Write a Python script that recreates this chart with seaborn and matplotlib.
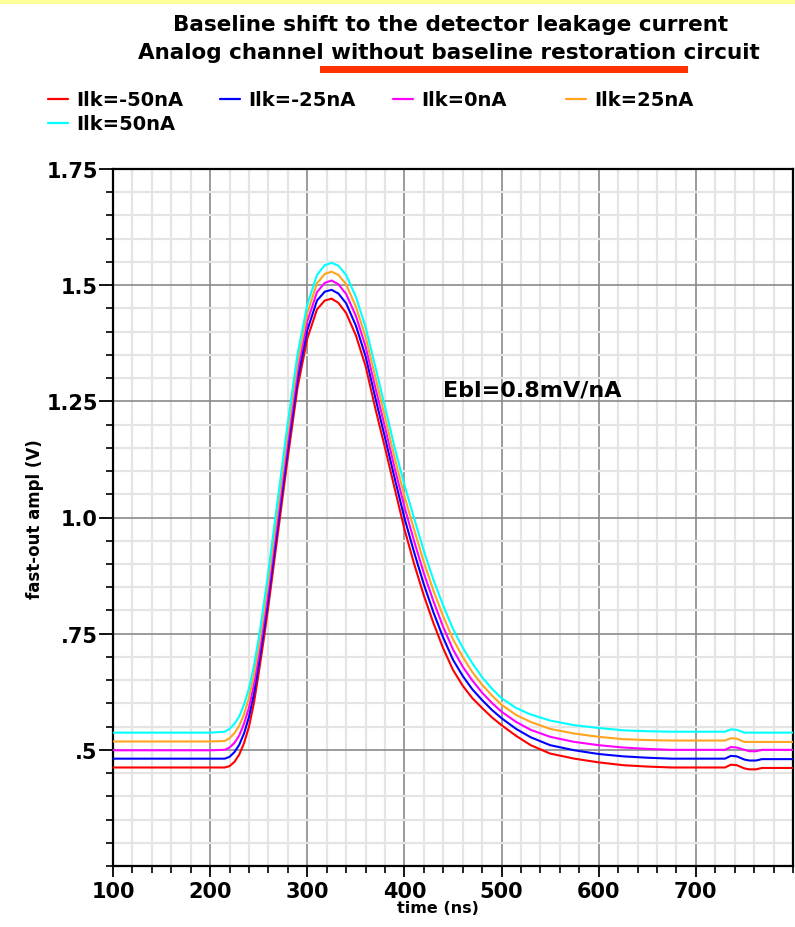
import matplotlib
matplotlib.use("Agg")
import matplotlib.pyplot as plt
from matplotlib.patches import Rectangle
from matplotlib.lines import Line2D
from matplotlib.ticker import FixedLocator, MultipleLocator
import seaborn as sns
import pandas as pd

# ---------------- data ----------------
time_ns = [100, 200, 215, 220, 225, 230, 235, 240, 245, 250,
           255, 260, 270, 280, 290, 300, 310, 318, 325, 332,
           340, 350, 360, 370, 380, 390, 400, 410, 420, 430,
           440, 450, 460, 470, 480, 490, 500, 515, 530, 550,
           575, 600, 625, 650, 675, 700, 730, 736, 742, 750,
           755, 762, 768, 800]

ilk_m50 = [0.462, 0.462, 0.462, 0.465, 0.474, 0.490, 0.515, 0.550, 0.600, 0.665,
           0.735, 0.810, 0.970, 1.130, 1.280, 1.385, 1.448, 1.467, 1.471, 1.462,
           1.440, 1.392, 1.326, 1.235, 1.150, 1.062, 0.975, 0.900, 0.832, 0.772,
           0.718, 0.672, 0.638, 0.611, 0.590, 0.570, 0.553, 0.530, 0.510, 0.492,
           0.481, 0.473, 0.467, 0.464, 0.462, 0.462, 0.462, 0.468, 0.467, 0.460,
           0.458, 0.458, 0.461, 0.461]

ilk_m25 = [0.481, 0.481, 0.481, 0.485, 0.495, 0.511, 0.536, 0.571, 0.620, 0.684,
           0.754, 0.829, 0.989, 1.149, 1.298, 1.403, 1.467, 1.486, 1.490, 1.482,
           1.461, 1.413, 1.347, 1.258, 1.172, 1.084, 0.999, 0.925, 0.856, 0.795,
           0.741, 0.694, 0.659, 0.630, 0.607, 0.586, 0.568, 0.545, 0.527, 0.510,
           0.499, 0.491, 0.486, 0.483, 0.481, 0.481, 0.481, 0.487, 0.486, 0.479,
           0.477, 0.477, 0.480, 0.480]

ilk_0 = [0.499, 0.499, 0.500, 0.505, 0.515, 0.531, 0.557, 0.591, 0.640, 0.703,
         0.773, 0.848, 1.008, 1.168, 1.316, 1.422, 1.485, 1.505, 1.510, 1.502,
         1.481, 1.434, 1.368, 1.280, 1.194, 1.106, 1.023, 0.949, 0.880, 0.819,
         0.764, 0.716, 0.679, 0.649, 0.623, 0.601, 0.582, 0.560, 0.543, 0.528,
         0.517, 0.510, 0.505, 0.502, 0.500, 0.500, 0.500, 0.506, 0.505, 0.500,
         0.497, 0.497, 0.500, 0.500]

ilk_p25 = [0.518, 0.518, 0.519, 0.525, 0.536, 0.552, 0.577, 0.612, 0.660, 0.721,
           0.791, 0.866, 1.026, 1.186, 1.334, 1.440, 1.504, 1.524, 1.529, 1.522,
           1.502, 1.454, 1.389, 1.303, 1.216, 1.128, 1.046, 0.974, 0.904, 0.842,
           0.787, 0.738, 0.700, 0.667, 0.640, 0.617, 0.597, 0.575, 0.560, 0.545,
           0.535, 0.528, 0.523, 0.521, 0.520, 0.520, 0.520, 0.525, 0.524, 0.517,
           0.517, 0.517, 0.517, 0.517]

ilk_p50 = [0.537, 0.537, 0.539, 0.545, 0.556, 0.572, 0.598, 0.632, 0.680, 0.740,
           0.810, 0.885, 1.045, 1.205, 1.352, 1.458, 1.522, 1.543, 1.548, 1.542,
           1.522, 1.475, 1.410, 1.325, 1.238, 1.150, 1.070, 0.998, 0.928, 0.865,
           0.810, 0.760, 0.720, 0.686, 0.656, 0.632, 0.611, 0.590, 0.576, 0.563,
           0.553, 0.547, 0.542, 0.540, 0.539, 0.539, 0.539, 0.544, 0.543, 0.537,
           0.537, 0.537, 0.537, 0.537]

series_labels = ["Ilk=-50nA", "Ilk=-25nA", "Ilk=0nA", "Ilk=25nA", "Ilk=50nA"]
series_values = [ilk_m50, ilk_m25, ilk_0, ilk_p25, ilk_p50]
series_colors = ["#ff0000", "#0000ff", "#ff00ff", "#ffa51f", "#00ffff"]

x_ticks = [100, 200, 300, 400, 500, 600, 700]
y_ticks = [0.5, 0.75, 1.0, 1.25, 1.5, 1.75]
y_tick_labels = [".5", ".75", "1.0", "1.25", "1.5", "1.75"]

title1 = "Baseline shift to the detector leakage current"
title2 = "Analog channel without baseline restoration circuit"
annot = "Ebl=0.8mV/nA"

# ---------------- build frame ----------------
rows = []
for lab, vals in zip(series_labels, series_values):
    for t, v in zip(time_ns, vals):
        rows.append({"time": t, "val": v, "series": lab})
df = pd.DataFrame(rows)

sns.set_style("white")
plt.rcParams["font.family"] = ["DejaVu Sans"]
plt.rcParams["font.weight"] = "bold"
plt.rcParams["text.color"] = "black"
plt.rcParams["axes.labelcolor"] = "black"
plt.rcParams["xtick.color"] = "black"
plt.rcParams["ytick.color"] = "black"

W, H = 795, 928
fig = plt.figure(figsize=(W / 100, H / 100), dpi=100)
fig.patch.set_facecolor("white")

L, R, T, B = 113, 793, 170, 867
ax = fig.add_axes([L / W, 1 - B / H, (R - L) / W, (B - T) / H])

sns.lineplot(data=df, x="time", y="val", hue="series", hue_order=series_labels,
             palette=series_colors, estimator=None, sort=False, lw=1.5,
             legend=False, ax=ax, zorder=3)

ax.set_xlim(100, 800)
ax.set_ylim(0.25, 1.75)
ax.xaxis.set_major_locator(FixedLocator(x_ticks))
ax.xaxis.set_minor_locator(MultipleLocator(20))
ax.yaxis.set_major_locator(FixedLocator(y_ticks))
ax.yaxis.set_minor_locator(MultipleLocator(0.05))
ax.set_xticklabels([str(v) for v in x_ticks])
ax.set_yticklabels(y_tick_labels)

ax.grid(which="minor", color="#e4e4e4", lw=1.6, zorder=0)
ax.grid(which="major", color="#8a8a8a", lw=1.2, zorder=1)
ax.set_axisbelow(True)

for s in ax.spines.values():
    s.set_color("black")
    s.set_linewidth(1.6)
    s.set_visible(True)

ax.tick_params(which="both", bottom=True, left=True, top=False, right=False)
ax.tick_params(which="major", direction="out", length=10, width=1.3,
               labelsize=15, pad=1)
ax.tick_params(which="minor", direction="out", length=5, width=1.2)
ax.tick_params(axis="x", which="major", length=8, pad=3)
for lab in ax.get_xticklabels() + ax.get_yticklabels():
    lab.set_fontweight("bold")

ax.set_xlabel("time (ns)", fontsize=11.5, fontweight="bold")
ax.xaxis.label.set_va("center")
ax.xaxis.set_label_coords((438 - L) / (R - L), -(909 - B) / (B - T))
ax.set_ylabel("fast-out ampl (V)", fontsize=12, fontweight="bold")
ax.yaxis.label.set_va("center")
ax.yaxis.set_label_coords(-(L - 35) / (R - L), (B - 519) / (B - T))

ax.text(440, 1.276, annot, fontsize=16, fontweight="bold", ha="left", va="center",
        zorder=5)

# ---------------- decorations ----------------
fig.patches.append(Rectangle((0, 1 - 5 / H), 1, 5 / H, transform=fig.transFigure,
                             facecolor="#ffff99", edgecolor="none"))
fig.text(451 / W, 1 - 25 / H, title1, ha="center", va="center", fontsize=15.5,
         fontweight="bold")
fig.text(449 / W, 1 - 53 / H, title2, ha="center", va="center", fontsize=15.5,
         fontweight="bold")
fig.patches.append(Rectangle((320 / W, 1 - 74 / H), (688 - 320) / W, 7 / H,
                             transform=fig.transFigure, facecolor="#ff3300",
                             edgecolor="none"))

# legend (manual, fixed column grid)
leg_pos = [(48, 100), (220, 100), (393, 100), (566, 100), (48, 124)]
for (lx, ly), lab, col in zip(leg_pos, series_labels, series_colors):
    fig.add_artist(Line2D([lx / W, (lx + 20) / W], [1 - ly / H, 1 - ly / H],
                          transform=fig.transFigure, color=col, lw=1.6))
    fig.text((lx + 28) / W, 1 - ly / H, lab, ha="left", va="center",
             fontsize=14, fontweight="bold")

fig.savefig("out.png", dpi=100)
